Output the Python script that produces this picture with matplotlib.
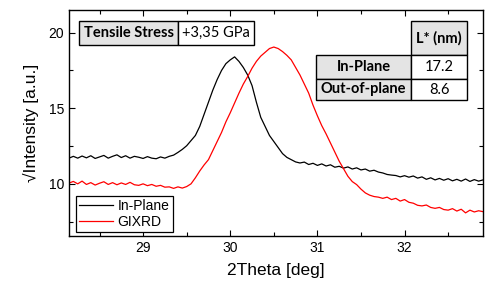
"""sqrt-intensity XRD scans: in-plane vs GIXRD under tensile stress."""

import matplotlib
matplotlib.use("Agg")
import matplotlib.pyplot as plt
from matplotlib.patches import Rectangle
from matplotlib.ticker import MultipleLocator

two_theta = [
    28.15, 28.20, 28.25, 28.30, 28.35, 28.40, 28.45, 28.50, 28.55, 28.60,
    28.65, 28.70, 28.75, 28.80, 28.85, 28.90, 28.95, 29.00, 29.05, 29.10,
    29.15, 29.20, 29.25, 29.30, 29.35, 29.40, 29.45, 29.50, 29.55, 29.60,
    29.65, 29.70, 29.75, 29.80, 29.85, 29.90, 29.95, 30.00, 30.05, 30.10,
    30.15, 30.20, 30.25, 30.30, 30.35, 30.40, 30.45, 30.50, 30.55, 30.60,
    30.65, 30.70, 30.75, 30.80, 30.85, 30.90, 30.95, 31.00, 31.05, 31.10,
    31.15, 31.20, 31.25, 31.30, 31.35, 31.40, 31.45, 31.50, 31.55, 31.60,
    31.65, 31.70, 31.75, 31.80, 31.85, 31.90, 31.95, 32.00, 32.05, 32.10,
    32.15, 32.20, 32.25, 32.30, 32.35, 32.40, 32.45, 32.50, 32.55, 32.60,
    32.65, 32.70, 32.75, 32.80, 32.85, 32.90,
]
in_plane = [
    11.70, 11.82, 11.70, 11.84, 11.72, 11.86, 11.68, 11.78, 11.88, 11.70,
    11.82, 11.92, 11.74, 11.86, 11.70, 11.82, 11.76, 11.68, 11.80, 11.70,
    11.66, 11.78, 11.70, 11.82, 11.90, 12.08, 12.28, 12.52, 12.86, 13.20,
    13.80, 14.60, 15.40, 16.20, 16.90, 17.50, 17.95, 18.20, 18.40, 18.10,
    17.70, 17.20, 16.50, 15.40, 14.40, 13.80, 13.20, 12.80, 12.40, 12.00,
    11.75, 11.60, 11.45, 11.38, 11.44, 11.28, 11.36, 11.22, 11.32, 11.18,
    11.26, 11.10, 11.16, 11.04, 11.12, 10.98, 11.06, 10.92, 10.98, 10.84,
    10.90, 10.78, 10.72, 10.62, 10.58, 10.55, 10.46, 10.54, 10.44, 10.52,
    10.38, 10.46, 10.30, 10.40, 10.26, 10.36, 10.24, 10.34, 10.20, 10.30,
    10.18, 10.32, 10.16, 10.28, 10.18, 10.26,
]
gixrd = [
    10.05, 10.16, 10.00, 10.18, 9.96, 10.08, 9.92, 10.04, 10.14, 9.96,
    10.08, 9.94, 10.06, 9.96, 10.10, 9.94, 9.90, 10.00, 9.88, 9.96,
    9.84, 9.90, 9.78, 9.80, 9.70, 9.80, 9.72, 9.82, 10.00, 10.40,
    10.85, 11.25, 11.60, 12.20, 12.80, 13.40, 14.10, 14.70, 15.35, 16.00,
    16.60, 17.10, 17.65, 18.10, 18.45, 18.70, 18.95, 19.05, 18.95, 18.75,
    18.50, 18.20, 17.70, 17.20, 16.60, 16.00, 15.20, 14.50, 13.85, 13.30,
    12.70, 12.10, 11.50, 11.00, 10.50, 10.15, 9.95, 9.65, 9.40, 9.25,
    9.16, 9.12, 9.04, 9.12, 8.96, 9.04, 8.86, 8.96, 8.78, 8.72,
    8.58, 8.54, 8.60, 8.44, 8.38, 8.44, 8.30, 8.26, 8.36, 8.20,
    8.32, 8.08, 8.26, 8.14, 8.22, 8.16,
]
series_labels = ["In-Plane", "GIXRD"]
stress_cells = ["Tensile Stress", "+3,35 GPa"]
size_header = "L* (nm)"
size_rows = ["In-Plane", "Out-of-plane"]
size_values = ["17.2", "8.6"]

W, H = 492, 289
GREY = "#e4e4e4"
TABLE_FONT = ["Lato", "DejaVu Sans"]


def cell(fig, x0, y0, x1, y1, text, bold=False, fill="white", size=10.5):
    # pixel box measured from the top-left corner of the figure
    fig.patches.append(Rectangle((x0 / W, 1 - y1 / H), (x1 - x0) / W, (y1 - y0) / H,
                                 transform=fig.transFigure, facecolor=fill,
                                 edgecolor="black", linewidth=1.0, zorder=5))
    fig.text((x0 + x1) / 2 / W, 1 - (y0 + y1) / 2 / H, text, ha="center", va="center",
             fontsize=size, fontweight="bold" if bold else "normal",
             family=TABLE_FONT, zorder=6)


def main():
    plt.rcParams.update({"font.family": ["Liberation Sans", "DejaVu Sans"]})
    fig = plt.figure(figsize=(4.92, 2.89), dpi=100)
    ax = fig.add_axes([69 / W, 1 - 236 / H, 414 / W, 226 / H])

    ax.plot(two_theta, in_plane, color="black", linewidth=0.9, label=series_labels[0])
    ax.plot(two_theta, gixrd, color="red", linewidth=0.9, label=series_labels[1])
    ax.set_xlim(28.15, 32.9)
    ax.set_ylim(6.55, 21.5)
    ax.xaxis.set_major_locator(MultipleLocator(1))
    ax.xaxis.set_minor_locator(MultipleLocator(0.5))
    ax.yaxis.set_major_locator(MultipleLocator(5))
    ax.yaxis.set_minor_locator(MultipleLocator(2.5))
    ax.tick_params(which="both", direction="in", top=True, right=True, labelsize=10)
    ax.tick_params(which="major", length=4, width=0.8)
    ax.tick_params(which="minor", length=3, width=0.8)
    for sp in ax.spines.values():
        sp.set_linewidth(1.0)
    ax.set_xlabel("2Theta [deg]", fontsize=12.5, labelpad=6)
    ax.set_ylabel("\u221aIntensity [a.u.]", fontsize=12.5, labelpad=7)

    leg = ax.legend(loc="lower left", bbox_to_anchor=(7 / 414, 4 / 226), borderaxespad=0,
                    fontsize=10, handlelength=2.4, fancybox=False, edgecolor="black",
                    framealpha=1, borderpad=0.25, labelspacing=0.1, handletextpad=0.35)
    leg.get_frame().set_linewidth(0.9)

    cell(fig, 79, 21, 178, 45, stress_cells[0], bold=True, fill=GREY)
    cell(fig, 178, 21, 254, 45, stress_cells[1])
    cell(fig, 411, 21, 467, 55, size_header, bold=True, fill=GREY)
    tops = [55, 79]
    bots = [79, 100]
    for name, val, y0, y1 in zip(size_rows, size_values, tops, bots):
        cell(fig, 316, y0, 411, y1, name, bold=True, fill=GREY)
        cell(fig, 411, y0, 467, y1, val)

    fig.savefig("out.png", dpi=100)
    plt.close(fig)


if __name__ == "__main__":
    main()
